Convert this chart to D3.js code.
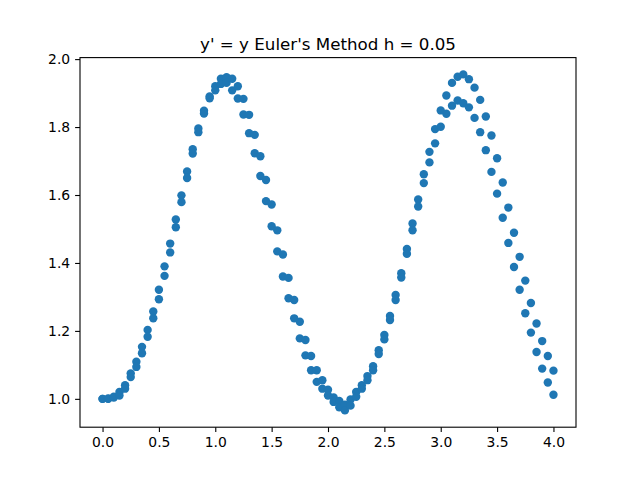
<!DOCTYPE html>
<html>
<head>
<meta charset="utf-8">
<script src="https://cdn.jsdelivr.net/npm/d3@7"></script>
<style>
  body { margin: 0; background: #fff; }
  svg text { font-family: "DejaVu Sans", sans-serif; }
</style>
</head>
<body>
<div id="chart"></div>
<script>
// chart data
const title = "y' = y Euler's Method h = 0.05";

const xValues = [
  0.00, 0.05, 0.10, 0.15, 0.20, 0.25, 0.30, 0.35, 0.40, 0.45,
  0.50, 0.55, 0.60, 0.65, 0.70, 0.75, 0.80, 0.85, 0.90, 0.95,
  1.00, 1.05, 1.10, 1.15, 1.20, 1.25, 1.30, 1.35, 1.40, 1.45,
  1.50, 1.55, 1.60, 1.65, 1.70, 1.75, 1.80, 1.85, 1.90, 1.95,
  2.00, 2.05, 2.10, 2.15, 2.20, 2.25, 2.30, 2.35, 2.40, 2.45,
  2.50, 2.55, 2.60, 2.65, 2.70, 2.75, 2.80, 2.85, 2.90, 2.95,
  3.00, 3.05, 3.10, 3.15, 3.20, 3.25, 3.30, 3.35, 3.40, 3.45,
  3.50, 3.55, 3.60, 3.65, 3.70, 3.75, 3.80, 3.85, 3.90, 3.95,
  4.00
];

const upperY = [
  1.000, 1.001, 1.006, 1.020, 1.040, 1.075, 1.109, 1.153, 1.203, 1.257,
  1.321, 1.390, 1.457, 1.528, 1.599, 1.669, 1.735, 1.796, 1.848, 1.890,
  1.920, 1.942, 1.947, 1.942, 1.920, 1.883, 1.836, 1.777, 1.714, 1.644,
  1.572, 1.496, 1.425, 1.356, 1.291, 1.227, 1.173, 1.126, 1.084, 1.055,
  1.027, 1.004, 0.994, 0.983, 0.998, 1.020, 1.040, 1.067, 1.096, 1.143,
  1.188, 1.244, 1.306, 1.370, 1.441, 1.516, 1.587, 1.661, 1.727, 1.794,
  1.849, 1.893, 1.930, 1.948, 1.955, 1.941, 1.916, 1.880, 1.831, 1.775,
  1.708, 1.637, 1.563, 1.489, 1.418, 1.348, 1.282, 1.222, 1.170, 1.126,
  1.083
];

const lowerY = [
  1.000, 1.000, 1.004, 1.010, 1.030, 1.064, 1.094, 1.134, 1.183, 1.237,
  1.293, 1.362, 1.431, 1.505, 1.579, 1.650, 1.722, 1.785, 1.840, 1.885,
  1.908, 1.927, 1.930, 1.908, 1.884, 1.837, 1.782, 1.723, 1.656, 1.582,
  1.508, 1.434, 1.360, 1.296, 1.237, 1.178, 1.128, 1.084, 1.050, 1.030,
  1.010, 0.991, 0.975, 0.966, 0.980, 1.006, 1.030, 1.055, 1.084, 1.132,
  1.175, 1.232, 1.291, 1.357, 1.427, 1.496, 1.566, 1.635, 1.696, 1.752,
  1.801, 1.839, 1.863, 1.878, 1.870, 1.858, 1.827, 1.785, 1.732, 1.668,
  1.604, 1.533, 1.459, 1.388, 1.321, 1.252, 1.195, 1.138, 1.089, 1.048,
  1.012
];

const xTicks = [0.0, 0.5, 1.0, 1.5, 2.0, 2.5, 3.0, 3.5, 4.0];
const yTicks = [1.0, 1.2, 1.4, 1.6, 1.8, 2.0];

async function draw() {
  /////////////////////
  // Dimensions (matplotlib default figure 640x480)
  /////////////////////
  const W = 640, H = 480;
  const margin = { top: 57.6, right: 64, bottom: 52.8, left: 80 };
  const width = W - margin.left - margin.right;
  const height = H - margin.top - margin.bottom;

  const svg = d3.select("#chart")
    .append("svg")
    .attr("width", W)
    .attr("height", H);

  const g = svg.append("g")
    .attr("transform", `translate(${margin.left}, ${margin.top})`);

  // both series share the x positions
  const points = xValues.flatMap((x, i) => [
    { x: x, y: upperY[i] },
    { x: x, y: lowerY[i] }
  ]);

  /////////////////////
  // Scales (5% padding like matplotlib)
  /////////////////////
  const xExt = d3.extent(xValues);
  const xPad = (xExt[1] - xExt[0]) * 0.05;
  const xScale = d3.scaleLinear()
    .domain([xExt[0] - xPad, xExt[1] + xPad])
    .range([0, width]);

  const yExt = d3.extent(points, d => d.y);
  const yPad = (yExt[1] - yExt[0]) * 0.05;
  const yScale = d3.scaleLinear()
    .domain([yExt[0] - yPad, yExt[1] + yPad])
    .range([height, 0]);

  // points
  g.append("g")
    .selectAll("circle")
    .data(points)
    .join("circle")
    .attr("cx", d => xScale(d.x))
    .attr("cy", d => yScale(d.y))
    .attr("r", 4.2)
    .attr("fill", "#1f77b4");

  // axes
  const xAxis = g.append("g")
    .attr("transform", `translate(0, ${height})`)
    .call(d3.axisBottom(xScale).tickValues(xTicks).tickFormat(d3.format(".1f"))
      .tickSize(4.9).tickPadding(4.9));

  const yAxis = g.append("g")
    .call(d3.axisLeft(yScale).tickValues(yTicks).tickFormat(d3.format(".1f"))
      .tickSize(4.9).tickPadding(4.9));

  [xAxis, yAxis].forEach(a => {
    a.select(".domain").remove();
    a.selectAll(".tick line").attr("stroke", "#000").attr("stroke-width", 1.1);
    a.selectAll(".tick text")
      .attr("fill", "#000")
      .style("font-size", "13.9px")
      .style("font-family", "'DejaVu Sans', sans-serif");
  });

  // frame
  g.append("rect")
    .attr("width", width)
    .attr("height", height)
    .attr("fill", "none")
    .attr("stroke", "#000")
    .attr("stroke-width", 1.1);

  // title
  svg.append("text")
    .attr("x", margin.left + width / 2)
    .attr("y", margin.top - 8)
    .attr("text-anchor", "middle")
    .style("font-size", "16.7px")
    .attr("fill", "#000")
    .text(title);
}

draw();
</script>
</body>
</html>
